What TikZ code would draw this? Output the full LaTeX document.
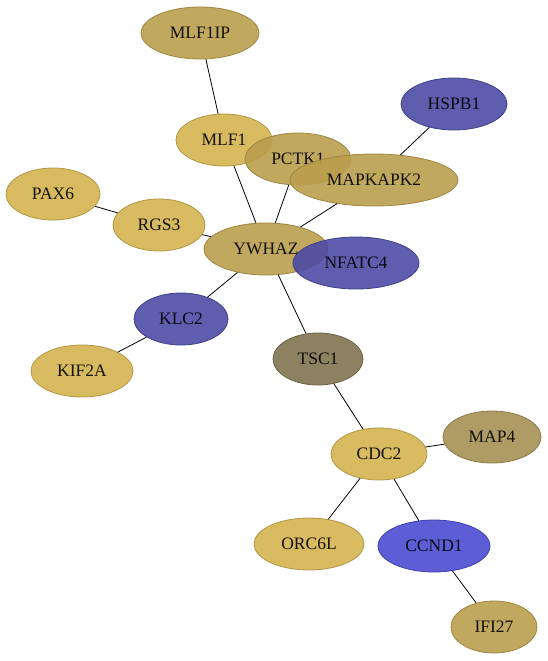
\documentclass[tikz,border=0pt]{standalone}
\usepackage{fontspec}
\setmainfont{Liberation Serif}
\usetikzlibrary{shapes.geometric}
\definecolor{gold}{RGB}{212,178,80}
\definecolor{tan}{RGB}{186,158,78}
\definecolor{olive}{RGB}{166,145,84}
\definecolor{khaki}{RGB}{128,116,80}
\definecolor{indigo}{RGB}{76,75,165}
\definecolor{azure}{RGB}{75,75,208}

\begin{document}
\begin{tikzpicture}
    [x=1pt,y=-1pt,
      gene/.style={ellipse,draw,fill opacity=.9,line width=.8pt,minimum height=52pt,inner sep=0pt,
        font=\fontsize{17.5}{20}\selectfont},
      link/.style={draw=black,line width=.8pt}]
    \useasboundingbox (0,0) rectangle (548,661);

    % genes: name/x/y/width/colour, in drawing order
    \foreach \g/\x/\y/\w/\c in {MLF1IP/200/33/118/tan,HSPB1/454/104/106/indigo,
        MLF1/224/140/96/gold,PCTK1/298/159/106/tan,MAPKAPK2/374/180/168/tan,
        PAX6/53/194/94/gold,RGS3/159/225/92/gold,YWHAZ/266/249/124/tan,
        NFATC4/356/263/126/indigo,KLC2/181/319/94/indigo,KIF2A/82/371/102/gold,
        TSC1/318/359/90/khaki,CDC2/379/454/96/gold,MAP4/492/437/98/olive,
        ORC6L/309/544/110/gold,CCND1/434/546/112/azure,IFI27/494/627/86/tan} {
      \node[gene,fill=\c,draw=\c!85!black,minimum width=\w pt] (\g) at (\x,\y) {\g};
    }

    % interactions
    \foreach \a/\b in {MLF1IP/MLF1,MLF1/YWHAZ,PCTK1/YWHAZ,MAPKAPK2/YWHAZ,HSPB1/MAPKAPK2,
        PAX6/RGS3,RGS3/YWHAZ,YWHAZ/KLC2,KLC2/KIF2A,YWHAZ/TSC1,TSC1/CDC2,CDC2/MAP4,
        CDC2/ORC6L,CDC2/CCND1,CCND1/IFI27} {
      \draw[link] (\a) -- (\b);
    }
\end{tikzpicture}
\end{document}
